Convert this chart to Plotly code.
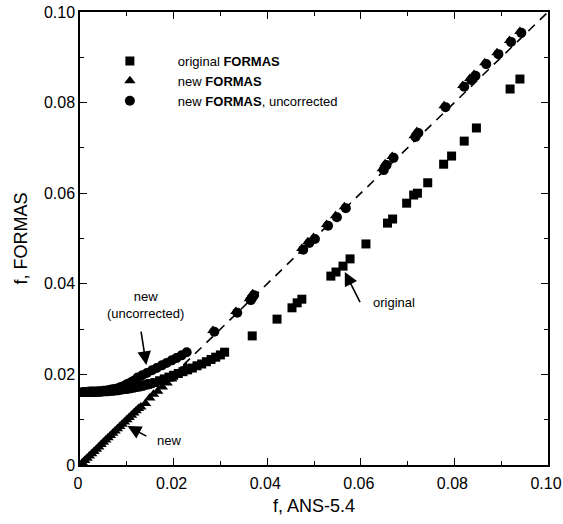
import plotly.graph_objects as go

# ---------------- data ----------------
orig_x = [0.0005, 0.0010, 0.0015, 0.0020, 0.0025, 0.0030, 0.0035, 0.0040, 0.0045, 0.0050,
          0.0055, 0.0060, 0.0065, 0.0070, 0.0075, 0.0080, 0.0085, 0.0090, 0.0095, 0.0100,
          0.0105, 0.0110, 0.0115, 0.0120, 0.0125, 0.0130, 0.0135, 0.0140, 0.0145, 0.0150,
          0.0160, 0.0170, 0.0180, 0.0190, 0.0200, 0.0210, 0.0220, 0.0230, 0.0240, 0.0250,
          0.0260, 0.0270, 0.0280, 0.0290, 0.0300, 0.0309,
          0.0368, 0.0421, 0.0453, 0.0464, 0.0474, 0.0536, 0.0547, 0.0562, 0.0577, 0.0611,
          0.0657, 0.0668, 0.0698, 0.0713, 0.0721, 0.0743, 0.0777, 0.0794, 0.0821, 0.0847,
          0.0919, 0.0940]
orig_y = [0.0160, 0.0160, 0.0160, 0.0160, 0.0161, 0.0161, 0.0161, 0.0161, 0.0162, 0.0162,
          0.0162, 0.0163, 0.0163, 0.0164, 0.0164, 0.0165, 0.0166, 0.0167, 0.0167, 0.0168,
          0.0169, 0.0170, 0.0171, 0.0172, 0.0173, 0.0174, 0.0176, 0.0177, 0.0178, 0.0180,
          0.0182, 0.0186, 0.0190, 0.0194, 0.0198, 0.0202, 0.0206, 0.0210, 0.0214, 0.0219,
          0.0223, 0.0228, 0.0233, 0.0238, 0.0243, 0.0249,
          0.0285, 0.0322, 0.0347, 0.0358, 0.0366, 0.0417, 0.0426, 0.0439, 0.0455, 0.0488,
          0.0534, 0.0543, 0.0578, 0.0596, 0.0600, 0.0623, 0.0664, 0.0682, 0.0715, 0.0744,
          0.0830, 0.0852]

new_x = [0.0005, 0.0010, 0.0015, 0.0020, 0.0025, 0.0030, 0.0035, 0.0040, 0.0045, 0.0050,
         0.0055, 0.0060, 0.0065, 0.0070, 0.0075, 0.0080, 0.0085, 0.0090, 0.0095, 0.0100,
         0.0105, 0.0110, 0.0115, 0.0120, 0.0125, 0.0130, 0.0140, 0.0149, 0.0157, 0.0166,
         0.0176, 0.0186, 0.0196, 0.0206, 0.0216, 0.0226,
         0.0284, 0.0333, 0.0362, 0.0365, 0.0369, 0.0474, 0.0487, 0.0499, 0.0527, 0.0546,
         0.0565, 0.0646, 0.0652, 0.0667, 0.0714, 0.0720, 0.0778, 0.0818, 0.0833, 0.0842,
         0.0865, 0.0891, 0.0918, 0.0940]
new_y = [0.0005, 0.0010, 0.0015, 0.0020, 0.0025, 0.0030, 0.0035, 0.0040, 0.0045, 0.0050,
         0.0055, 0.0060, 0.0065, 0.0070, 0.0075, 0.0080, 0.0085, 0.0090, 0.0095, 0.0100,
         0.0105, 0.0110, 0.0115, 0.0120, 0.0125, 0.0128, 0.0136, 0.0148, 0.0156, 0.0163,
         0.0172, 0.0181, 0.0190, 0.0199, 0.0208, 0.0217,
         0.0297, 0.0339, 0.0367, 0.0372, 0.0378, 0.0478, 0.0493, 0.0502, 0.0531, 0.0550,
         0.0570, 0.0654, 0.0665, 0.0681, 0.0727, 0.0736, 0.0793, 0.0838, 0.0853, 0.0862,
         0.0888, 0.0910, 0.0937, 0.0957]

unc_x = [0.0005, 0.0010, 0.0015, 0.0020, 0.0025, 0.0030, 0.0035, 0.0040, 0.0045, 0.0050,
         0.0055, 0.0060, 0.0065, 0.0070, 0.0075, 0.0080, 0.0085, 0.0090, 0.0095, 0.0100,
         0.0105, 0.0110, 0.0115, 0.0123, 0.0133, 0.0143, 0.0154, 0.0164, 0.0175, 0.0185,
         0.0196, 0.0206, 0.0217, 0.0228,
         0.0287, 0.0336, 0.0365, 0.0368, 0.0372, 0.0477, 0.0490, 0.0502, 0.0530, 0.0549,
         0.0568, 0.0649, 0.0655, 0.0670, 0.0717, 0.0723, 0.0781, 0.0821, 0.0836, 0.0845,
         0.0868, 0.0894, 0.0921, 0.0943]
unc_y = [0.0161, 0.0161, 0.0161, 0.0162, 0.0162, 0.0162, 0.0162, 0.0163, 0.0163, 0.0164,
         0.0164, 0.0165, 0.0166, 0.0167, 0.0168, 0.0169, 0.0171, 0.0173, 0.0175, 0.0178,
         0.0180, 0.0183, 0.0186, 0.0193, 0.0198, 0.0203, 0.0209, 0.0214, 0.0220, 0.0225,
         0.0231, 0.0236, 0.0242, 0.0249,
         0.0294, 0.0336, 0.0364, 0.0369, 0.0375, 0.0475, 0.0490, 0.0499, 0.0528, 0.0547,
         0.0567, 0.0651, 0.0662, 0.0678, 0.0724, 0.0733, 0.0790, 0.0835, 0.0850, 0.0859,
         0.0885, 0.0907, 0.0934, 0.0954]

ref_x = [0.0, 0.10]
ref_y = [0.0, 0.10]

tick_vals = [0, 0.02, 0.04, 0.06, 0.08, 0.10]
tick_text = ["0", "0.02", "0.04", "0.06", "0.08", "0.10"]
minor_vals = [0.01, 0.03, 0.05, 0.07, 0.09]

FONT = "Liberation Sans, Arial, sans-serif"

fig = go.Figure()
fig.add_trace(go.Scatter(x=ref_x, y=ref_y, mode="lines", showlegend=False,
                         line=dict(color="black", width=1.6, dash="9px,7px"),
                         hoverinfo="skip"))
fig.add_trace(go.Scatter(x=orig_x, y=orig_y, mode="markers", name="original <b>FORMAS</b>",
                         marker=dict(symbol="square", size=9, color="black")))
fig.add_trace(go.Scatter(x=new_x, y=new_y, mode="markers", name="new <b>FORMAS</b>",
                         marker=dict(symbol="triangle-up", size=10, color="black")))
fig.add_trace(go.Scatter(x=unc_x, y=unc_y, mode="markers", name="new <b>FORMAS</b>, uncorrected",
                         marker=dict(symbol="circle", size=10, color="black")))

axis_common = dict(
    range=[0, 0.10], tickvals=tick_vals, ticktext=tick_text,
    showgrid=False, zeroline=False, showline=True, linecolor="black", linewidth=1.5,
    mirror="allticks", ticks="inside", ticklen=7, tickwidth=1.2, tickcolor="black",
    tickfont=dict(family=FONT, size=16, color="black"),
    ticklabeloverflow="allow", automargin=False,
    minor=dict(tickvals=minor_vals, ticks="inside", ticklen=4,
               tickwidth=1.2, tickcolor="black"),
)
fig.update_xaxes(**axis_common, ticklabelstandoff=3, ticklabelshift=-2,
                 title=dict(text="f, ANS-5.4", font=dict(family=FONT, size=18, color="black"), standoff=8))
fig.update_yaxes(**axis_common,
                 title=dict(text="f, FORMAS", font=dict(family=FONT, size=18, color="black"), standoff=12))

ann_font = dict(family=FONT, size=13, color="black")
annotations = [
    # original
    dict(x=0.0562, y=0.0434, ax=0.0600, ay=0.0356, xref="x", yref="y", axref="x", ayref="y",
         text="", showarrow=True, arrowhead=2, arrowsize=1.7, arrowwidth=1.6, arrowcolor="black",
         standoff=4),
    dict(x=0.0621, y=0.0358, xref="x", yref="y", text="original", showarrow=False,
         xanchor="left", yanchor="middle", font=ann_font),
    # new (uncorrected)
    dict(x=0.0143, y=0.0212, ax=0.0130, ay=0.0298, xref="x", yref="y", axref="x", ayref="y",
         text="", showarrow=True, arrowhead=2, arrowsize=1.7, arrowwidth=1.6, arrowcolor="black",
         standoff=4),
    dict(x=0.0140, y=0.0353, xref="x", yref="y", text="new<br>(uncorrected)", showarrow=False,
         xanchor="center", yanchor="middle", font=ann_font),
    # new
    dict(x=0.0094, y=0.0090, ax=0.0145, ay=0.0062, xref="x", yref="y", axref="x", ayref="y",
         text="", showarrow=True, arrowhead=2, arrowsize=1.7, arrowwidth=1.6, arrowcolor="black",
         standoff=4),
    dict(x=0.0160, y=0.0055, xref="x", yref="y", text="new", showarrow=False,
         xanchor="left", yanchor="middle", font=ann_font),
]

fig.update_layout(
    width=563, height=524,
    margin=dict(l=80, r=15, t=12, b=59, autoexpand=False),
    paper_bgcolor="white", plot_bgcolor="white",
    font=dict(family=FONT, color="black"),
    annotations=annotations,
    legend=dict(x=0.004, y=0.925, xanchor="left", yanchor="top",
                bgcolor="rgba(0,0,0,0)", font=dict(family=FONT, size=13, color="black"),
                itemwidth=86, tracegroupgap=0, itemsizing="trace"),
)

fig.write_html("out.html")
